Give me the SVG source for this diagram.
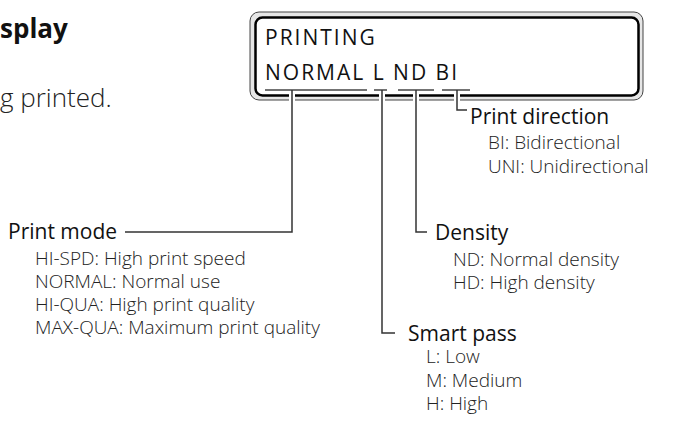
<svg xmlns="http://www.w3.org/2000/svg" width="676" height="429" viewBox="0 0 676 429">
<style>
.hd{font-family:"Open Sans","Noto Sans",sans-serif;font-size:21px;fill:#111}
.it{font-family:"Open Sans","Noto Sans",sans-serif;font-size:19px;font-weight:300;fill:#222}
.lcd{font-family:"Open Sans","Noto Sans",sans-serif;font-size:21px;fill:#111;letter-spacing:2px}
.ln{fill:none;stroke:#333;stroke-width:1.5}
.halo{fill:none;stroke:#fff;stroke-width:6}
.ul{stroke:#444;stroke-width:1.5}
</style>
<rect width="676" height="429" fill="#fff"/>
<g id="page-text">
<text x="0" y="38" style="font-family:'Open Sans','Noto Sans',sans-serif;font-size:26px;font-weight:bold;fill:#111">splay</text>
<text x="0" y="107" style="font-family:'Open Sans','Noto Sans',sans-serif;font-size:26px;font-weight:300;fill:#222">g printed.</text>
</g>
<g id="lcd">
<rect x="250" y="12" width="393" height="88" rx="9" fill="#e6e6e6" stroke="#444" stroke-width="1"/>
<rect x="255.5" y="17.5" width="383" height="78" rx="7" fill="#fff" stroke="#000" stroke-width="2.5"/>
<text class="lcd" x="265" y="45">PRINTING</text>
<text class="lcd" x="265" y="80">NORMAL L ND BI</text>
<line class="ul" x1="265" y1="90" x2="367" y2="90"/>
<line class="ul" x1="374" y1="90" x2="387" y2="90"/>
<line class="ul" x1="398" y1="90" x2="434" y2="90"/>
<line class="ul" x1="442" y1="90" x2="470" y2="90"/>
</g>
<g id="connectors">
<path class="halo" d="M292,92V102 M382,92V102 M416,92V102 M457,92V102"/>
<path class="ln" d="M292,90V232H125"/>
<path class="ln" d="M382,90V333H395"/>
<path class="ln" d="M416,90V232H427"/>
<path class="ln" d="M457,90V110H467"/>
</g>
<g id="print-direction">
<text class="hd" x="470" y="124">Print direction</text>
<text class="it" x="488" y="149">BI: Bidirectional</text>
<text class="it" x="488" y="173">UNI: Unidirectional</text>
</g>
<g id="print-mode">
<text class="hd" x="8" y="239">Print mode</text>
<text class="it" x="35" y="265">HI-SPD: High print speed</text>
<text class="it" x="35" y="288">NORMAL: Normal use</text>
<text class="it" x="35" y="311">HI-QUA: High print quality</text>
<text class="it" x="35" y="334">MAX-QUA: Maximum print quality</text>
</g>
<g id="density">
<text class="hd" x="435" y="240">Density</text>
<text class="it" x="453" y="266">ND: Normal density</text>
<text class="it" x="453" y="289">HD: High density</text>
</g>
<g id="smart-pass">
<text class="hd" x="408" y="341">Smart pass</text>
<text class="it" x="426" y="363">L: Low</text>
<text class="it" x="426" y="387">M: Medium</text>
<text class="it" x="426" y="410">H: High</text>
</g>
</svg>
